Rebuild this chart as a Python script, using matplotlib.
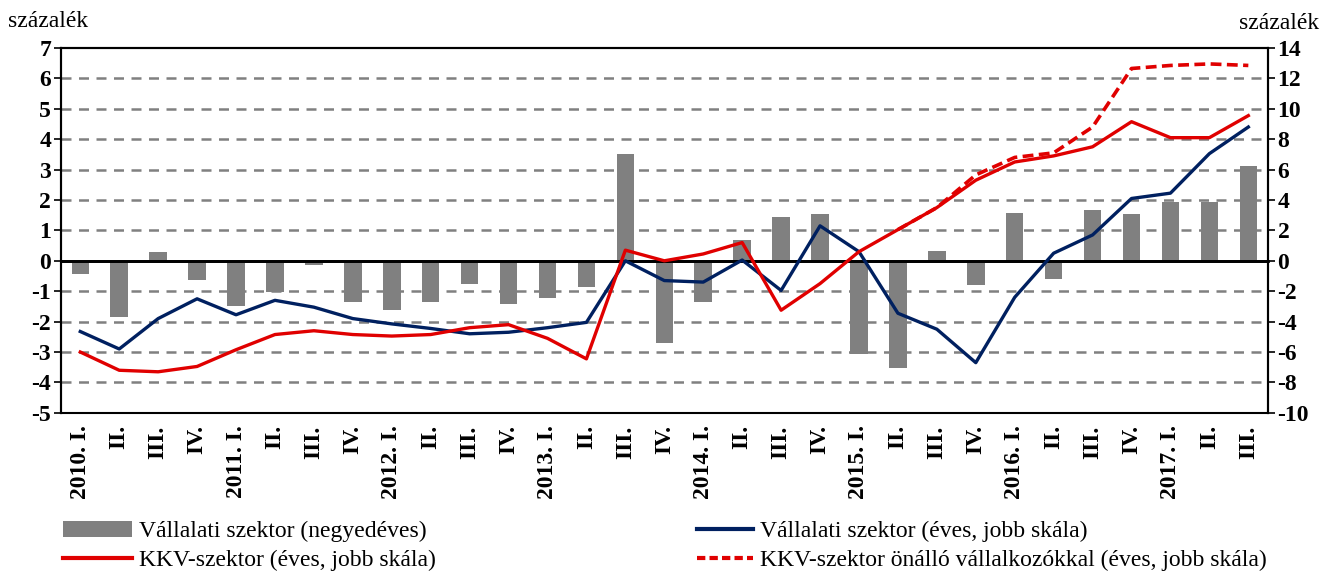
import numpy as np
import matplotlib
matplotlib.use("Agg")
import matplotlib.pyplot as plt
from matplotlib.patches import Patch
from matplotlib.lines import Line2D

plt.rcParams["font.family"] = ["Liberation Serif", "DejaVu Serif"]
plt.rcParams["axes.unicode_minus"] = False

# quarter labels 2010 I - 2017 III
years = ["2010", "2011", "2012", "2013", "2014", "2015", "2016", "2017"]
quarters = ["I.", "II.", "III.", "IV."]
labels = []
for y in years:
    for q in quarters:
        labels.append(f"{y}. {q}" if q == "I." else q)
labels = labels[:31]

# Vállalati szektor (negyedéves), left axis
bars = [-0.45, -1.84, 0.3, -0.62, -1.47, -1.03, -0.13, -1.36, -1.61, -1.34,
        -0.75, -1.43, -1.21, -0.87, 3.5, -2.69, -1.37, 0.68, 1.45, 1.53,
        -3.06, -3.51, 0.33, -0.79, 1.57, -0.6, 1.66, 1.53, 1.93, 1.92, 3.13]

# Vállalati szektor (éves), right axis
corp = [-4.65, -5.8, -3.8, -2.5, -3.55, -2.6, -3.05, -3.8, -4.15, -4.45,
        -4.8, -4.7, -4.4, -4.05, 0.0, -1.3, -1.4, 0.05, -1.95, 2.3,
        0.6, -3.45, -4.5, -6.7, -2.4, 0.5, 1.7, 4.1, 4.45, 7.05, 8.8]

# KKV-szektor (éves), right axis
sme = [-6.0, -7.2, -7.3, -6.95, -5.85, -4.85, -4.6, -4.85, -4.95, -4.85,
       -4.4, -4.2, -5.1, -6.45, 0.7, 0.0, 0.45, 1.2, -3.25, -1.5,
       0.6, 2.05, 3.5, 5.3, 6.5, 6.9, 7.5, 9.15, 8.1, 8.1, 9.55]

# KKV-szektor önálló vállalkozókkal (éves), right axis, from 2015 II
sme_self = [np.nan] * 21 + [2.05, 3.5, 5.65, 6.8, 7.1, 8.8, 12.65, 12.85, 12.95, 12.85]

x = np.arange(len(labels))

fig = plt.figure(figsize=(13.22, 5.71), dpi=100)
ax = fig.add_axes([0.046, 0.277, 0.913, 0.639])
ax2 = ax.twinx()

ax.bar(x, bars, width=0.45, color="#808080", zorder=2)
ax.set_ylim(-5, 7)
ax.set_yticks(range(-5, 8))
ax.set_xlim(-0.5, len(labels) - 0.5)
for v in range(-4, 7):
    if v != 0:
        ax.axhline(v, color="#808080", lw=1.8, ls=(0, (4, 3)), zorder=1)
ax.axhline(0, color="black", lw=2, zorder=3)

ax2.plot(x, corp, color="#002060", lw=2.4, zorder=4)
ax2.plot(x, sme, color="#e00000", lw=2.4, zorder=5)
ax2.plot(x, sme_self, color="#e00000", lw=2.6, ls=(0, (3, 1.5)), zorder=5)
ax2.set_ylim(-10, 14)
ax2.set_yticks(range(-10, 15, 2))

# labels at bottom frame, boundary tick marks on zero line
ax.set_xticks(x)
ax.set_xticklabels(labels)
ax.set_xticks(np.arange(0.5, len(labels) - 1, 1), minor=True)
ax.tick_params(axis="x", which="major", length=0, labelrotation=90, pad=9)
ax.tick_params(axis="x", which="minor", length=0)
ax2.spines["bottom"].set_position(("data", 0))
ax2.spines["bottom"].set_linewidth(2)
ax2.tick_params(axis="x", which="minor", length=6, width=1.2, direction="out",
                bottom=True, labelbottom=False)
ax2.tick_params(axis="x", which="major", length=0, labelbottom=False)

ax.tick_params(axis="y", length=5, width=1.2, labelsize=17, pad=2)
ax2.tick_params(axis="y", length=5, width=1.2, labelsize=17, pad=2)
for lab in ax.get_xticklabels():
    lab.set_fontweight("bold")
    lab.set_fontsize(17)
for lab in ax.get_yticklabels() + ax2.get_yticklabels():
    lab.set_fontweight("bold")

for a in (ax, ax2):
    for s in ("left", "right", "top"):
        a.spines[s].set_linewidth(1.5)
ax.spines["bottom"].set_linewidth(1.5)

fig.text(0.006, 0.962, "százalék", fontsize=17, va="center", ha="left")
fig.text(0.998, 0.958, "százalék", fontsize=17, va="center", ha="right")

h_bar = Patch(facecolor="#808080", edgecolor="none")
h_corp = Line2D([], [], color="#002060", lw=3)
h_sme = Line2D([], [], color="#e00000", lw=3)
h_self = Line2D([], [], color="#e00000", lw=3, ls=(0, (2, 1)))
leg_kw = dict(frameon=False, fontsize=17, handletextpad=0.3,
              labelspacing=0.3, borderpad=0, borderaxespad=0)
leg1 = fig.legend([h_bar, h_sme],
                  ["Vállalati szektor (negyedéves)", "KKV-szektor (éves, jobb skála)"],
                  loc="upper left", bbox_to_anchor=(0.048, 0.088),
                  handlelength=2.9, **leg_kw)
fig.legend([h_corp, h_self],
           ["Vállalati szektor (éves, jobb skála)",
            "KKV-szektor önálló vállalkozókkal (éves, jobb skála)"],
           loc="upper left", bbox_to_anchor=(0.527, 0.088),
           handlelength=2.4, **leg_kw)

fig.savefig("out.png", dpi=100)
